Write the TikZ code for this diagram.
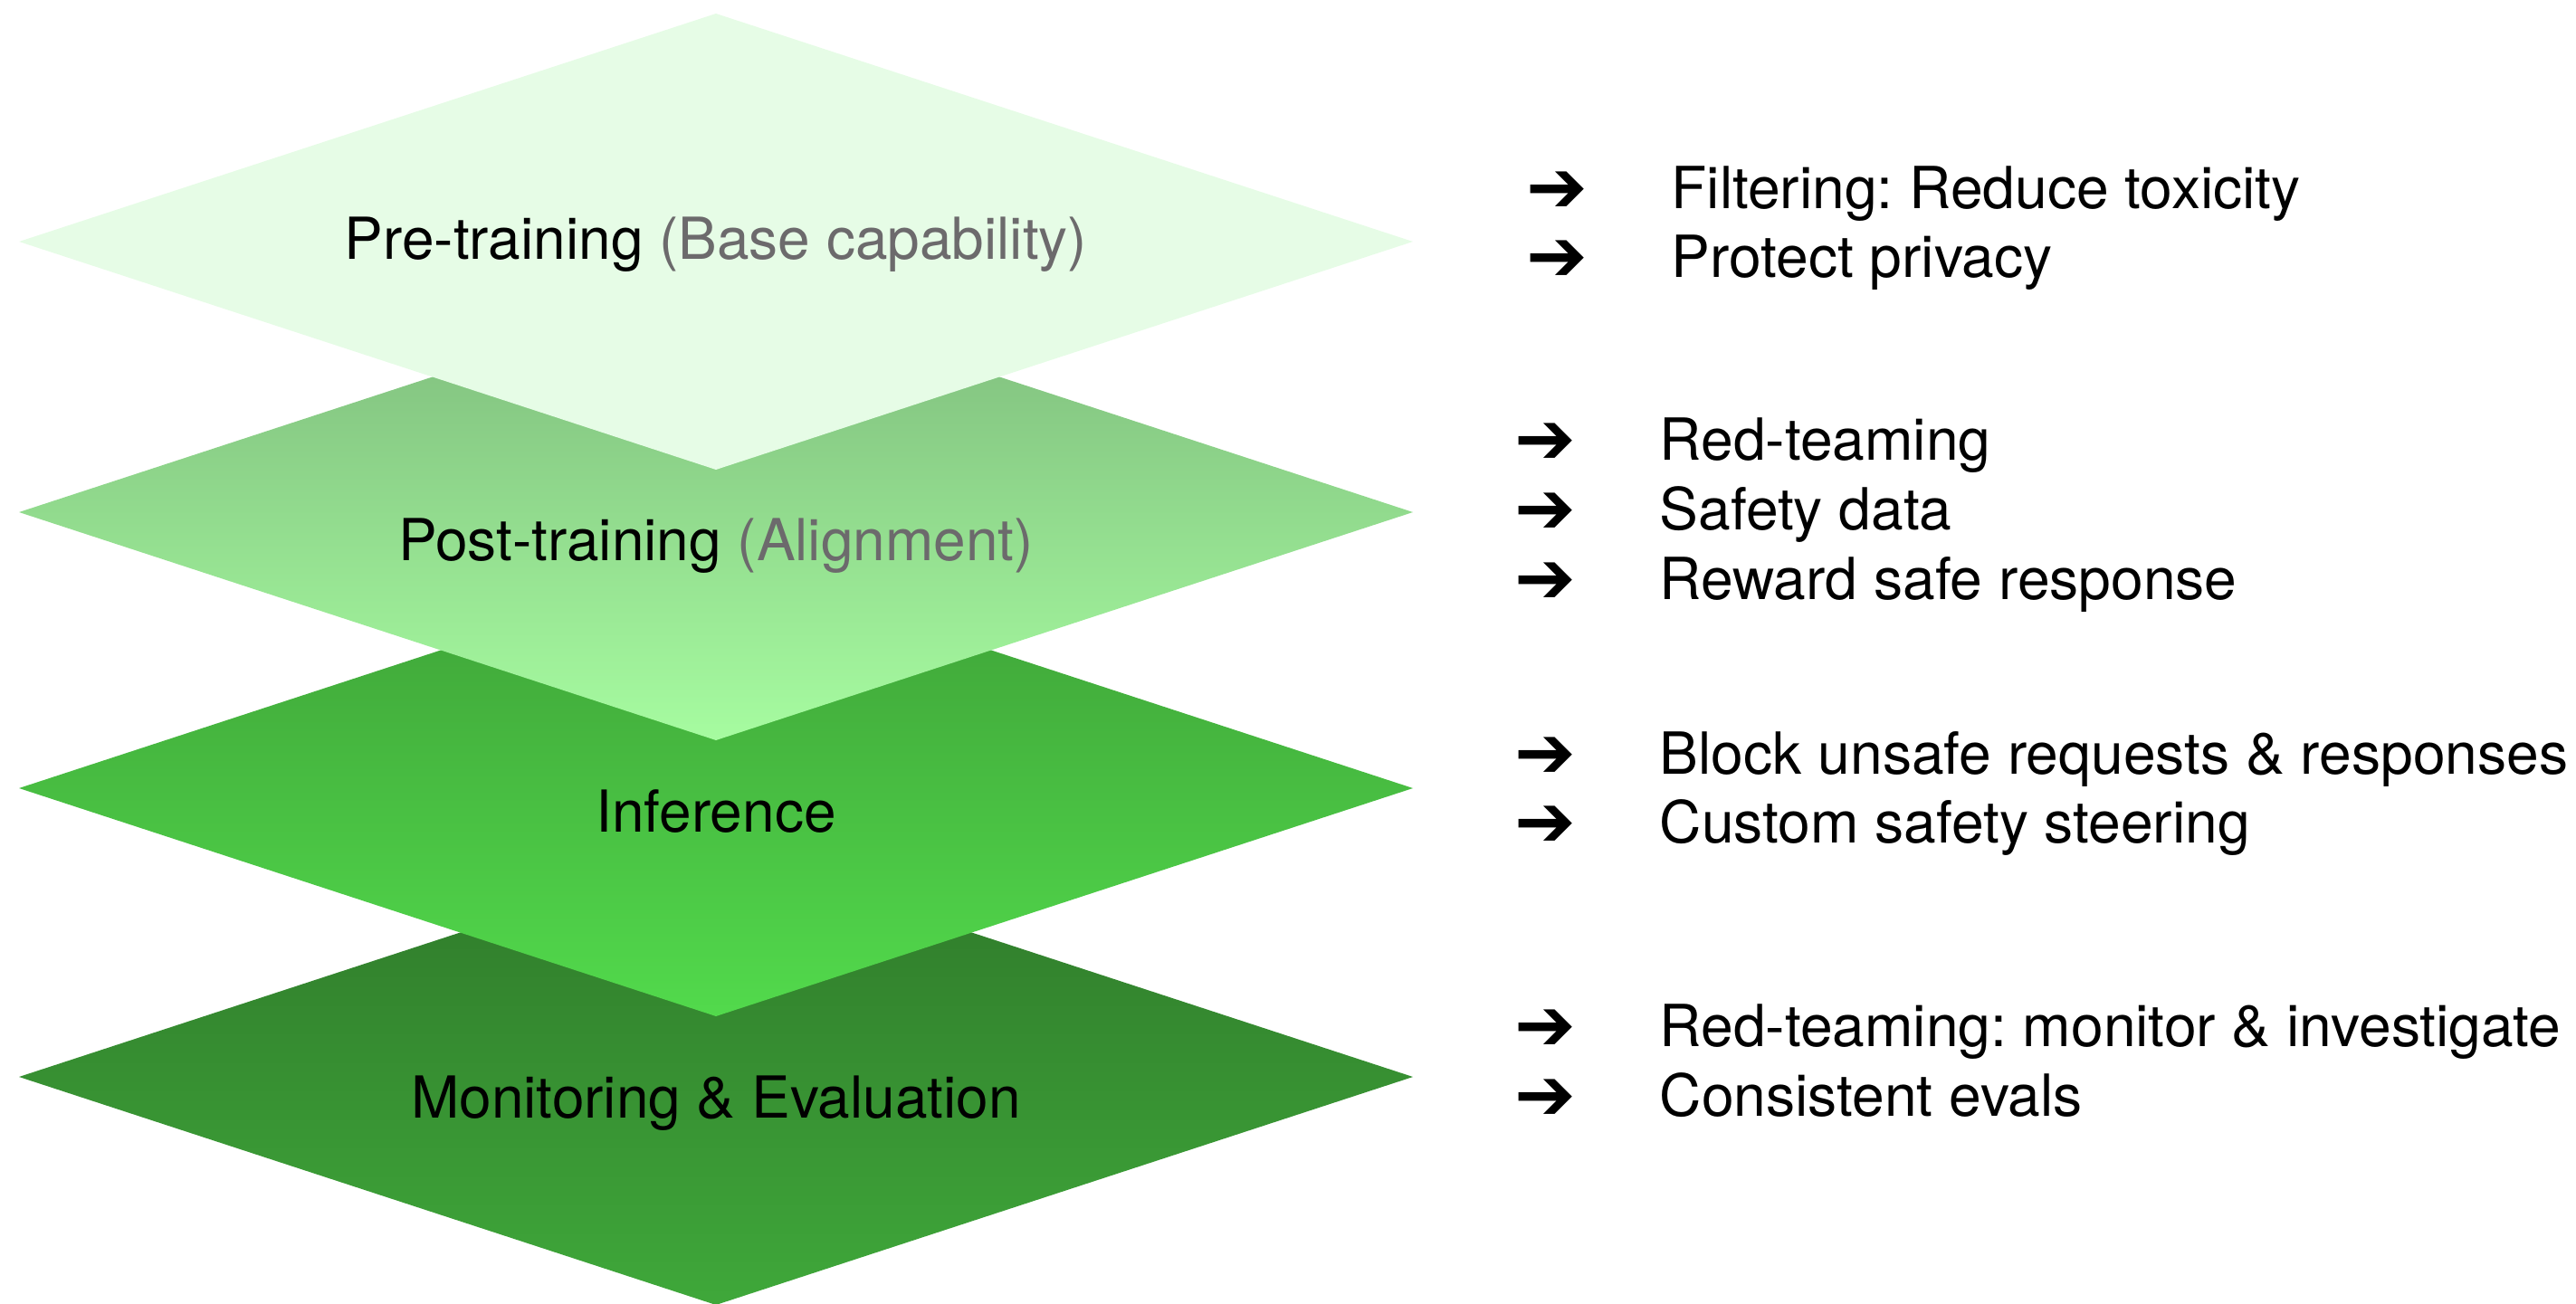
\documentclass[tikz,border=0pt]{standalone}
\usepackage{fontspec}
\setmainfont{TeX Gyre Heros}
\newfontfamily\arrowfont{DejaVu Sans}
\usetikzlibrary{shapes.geometric,positioning}
\frenchspacing
\definecolor{pregreen}{RGB}{230,252,230}
\definecolor{postgreen}{RGB}{166,252,160}
\definecolor{postshade}{RGB}{125,185,123}
\definecolor{infgreen}{RGB}{82,218,76}
\definecolor{infshade}{RGB}{62,160,55}
\definecolor{mongreen}{RGB}{63,168,58}
\definecolor{monshade}{RGB}{47,120,42}
\definecolor{asidegray}{RGB}{108,106,108}

\begin{document}
\begin{tikzpicture}[layer/.style = {
                        diamond, inner sep=0mm, outer sep=0mm,
                        minimum width=15.4cm, minimum height=5.04cm
                      },
                      stage/.style = {
                        font=\fontsize{18.2}{22}\selectfont,
                        text=black, anchor=base, inner sep=0mm
                      },
                      item/.style = {
                        font=\fontsize{18.25}{22}\selectfont,
                        text=black, anchor=base west, inner sep=0mm
                      },
                      bullet/.style = {
                        font=\arrowfont\bfseries\fontsize{23}{22}\selectfont,
                        text=black, anchor=base west, inner sep=0mm
                      }]
    \useasboundingbox (0,0) rectangle (28.46,-14.41);

    % layers, lowest first so the upper ones lie on top
    \node[layer, top color=monshade, middle color=mongreen,
          bottom color=mongreen] (monitor) at (7.91,-11.90) {};
    \node[layer, top color=infshade, middle color=infgreen,
          bottom color=infgreen] (infer) at (7.91,-8.71) {};
    \node[layer, top color=postshade, middle color=postgreen,
          bottom color=postgreen] (post) at (7.91,-5.66) {};
    \node[layer, fill=pregreen] (pre) at (7.91,-2.67) {};

    \node[stage] (prelabel) at (7.91,-2.87)
      {Pre-training {\color{asidegray}(Base capability)}};
    \node[stage] (postlabel) at (7.91,-6.19)
      {Post-training {\color{asidegray}(Alignment)}};
    \node[stage] (inflabel) at (7.91,-9.19) {Inference};
    \node[stage] (monlabel) at (7.91,-12.35) {Monitoring \& Evaluation};

    % what each layer does
    \node[item] (pre1) at (18.46,-2.31) {Filtering: Reduce toxicity};
    \node[item, below=0.76cm of pre1.base west, anchor=base west] (pre2)
      {Protect privacy};

    \node[item] (post1) at (18.33,-5.08) {Red-teaming};
    \node[item, below=0.77cm of post1.base west, anchor=base west] (post2)
      {Safety data};
    \node[item, below=0.77cm of post2.base west, anchor=base west] (post3)
      {Reward safe response};

    \node[item] (inf1) at (18.33,-8.55) {Block unsafe requests \& responses};
    \node[item, below=0.76cm of inf1.base west, anchor=base west] (inf2)
      {Custom safety steering};

    \node[item] (mon1) at (18.33,-11.56) {Red-teaming: monitor \& investigate};
    \node[item, below=0.77cm of mon1.base west, anchor=base west] (mon2)
      {Consistent evals};

    \foreach \n in {pre1,pre2,post1,post2,post3,inf1,inf2,mon1,mon2}
      \node[bullet, left=1.6cm of \n.base west, anchor=base west,
            yshift=-0.04cm] {➔};
  \end{tikzpicture}
\end{document}
